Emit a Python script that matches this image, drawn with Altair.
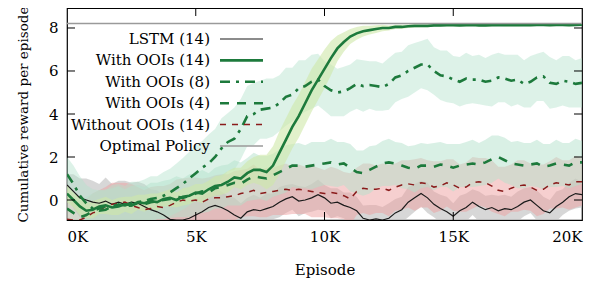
import altair as alt
import pandas as pd

# ---------------- data (episodes every 250) ----------------
episodes = [250 * i for i in range(81)]

lstm = [
    0.7, 0.4, 0.1, 0.0,
    -0.1, -0.15, -0.05, -0.2,
    -0.1, -0.2, -0.1, -0.15,
    -0.3, -0.45, -0.55, -0.7,
    -0.9, -0.93, -0.93, -0.85,
    -0.7, -0.55, -0.35, -0.25,
    -0.35, -0.5, -0.7, -0.85,
    -0.55, -0.45, -0.5, -0.4,
    -0.3, -0.1, 0.05, 0.15,
    -0.05, 0.0, 0.1, 0.25,
    0.1, -0.15, -0.1, -0.25,
    -0.35, -0.5, -0.85, -0.93,
    -0.88, -0.93, -0.85, -0.6,
    -0.45, -0.1, 0.1, 0.3,
    0.1, -0.2, -0.4, -0.55,
    -0.75, -0.5, -0.35, -0.1,
    -0.3, -0.45, -0.35, -0.5,
    -0.4, -0.45, -0.3, -0.1,
    0.0, -0.25, -0.5, -0.6,
    -0.3, -0.1, 0.15, 0.3,
    0.25,
]
lstm_sp = [
    0.5, 0.8, 0.9, 1.0,
    1.0, 0.9, 1.1, 0.95,
    1.0, 1.1, 0.9, 1.0,
    1.05, 0.95, 1.0, 0.9,
    1.0, 0.95, 0.9, 0.85,
    0.8, 0.75, 0.7, 0.8,
    0.75, 0.7, 0.8, 0.7,
    0.65, 0.7, 0.6, 0.7,
    0.6, 0.7, 0.65, 0.6,
    0.7, 0.6, 0.65, 0.7,
    0.6, 0.7, 0.65, 0.6,
    0.7, 0.65, 0.6, 0.7,
    0.65, 0.6, 0.7, 0.65,
    0.6, 0.7, 0.65, 0.6,
    0.7, 0.6, 0.65, 0.7,
    0.6, 0.7, 0.65, 0.6,
    0.7, 0.65, 0.6, 0.7,
    0.65, 0.6, 0.7, 0.65,
    0.6, 0.7, 0.65, 0.6,
    0.7, 0.6, 0.65, 0.7,
    0.6,
]

no_ooi = [
    -0.9, -0.93, -0.93, -0.8,
    -0.6, -0.5, -0.3, -0.2,
    -0.15, -0.1, -0.25, -0.35,
    -0.45, -0.4, -0.3, -0.35,
    -0.25, -0.1, 0.0, -0.05,
    0.0, -0.1, 0.05, 0.1,
    0.1, 0.15, 0.2, 0.3,
    0.35, 0.45, 0.3, 0.35,
    0.4, 0.45, 0.5, 0.45,
    0.5, 0.45, 0.4, 0.35,
    0.3, 0.35, 0.3, 0.2,
    0.05, 0.4, 0.55, 0.5,
    0.5, 0.55, 0.45, 0.6,
    0.7, 0.75, 0.7, 0.8,
    0.75, 0.6, 0.65, 0.8,
    0.7, 0.55, 0.6, 0.8,
    0.85, 0.8, 0.65, 0.45,
    0.4, 0.55, 0.65, 0.7,
    0.6, 0.45, 0.5, 0.7,
    0.8, 0.75, 0.7, 0.85,
    0.85,
]
no_ooi_sp = [
    0.8, 0.85, 0.9, 0.85,
    0.9, 0.95, 0.9, 1.0,
    0.95, 0.9, 1.0, 0.95,
    0.9, 1.0, 0.95, 1.0,
    1.0, 1.05, 1.0, 1.1,
    1.05, 1.1, 1.0, 1.05,
    1.1, 1.05, 1.15, 1.1,
    1.1, 1.2, 1.1, 1.15,
    1.1, 1.15, 1.2, 1.1,
    1.15, 1.1, 1.2, 1.15,
    1.1, 1.2, 1.15, 1.1,
    1.2, 1.1, 1.15, 1.2,
    1.1, 1.15, 1.2, 1.1,
    1.15, 1.1, 1.2, 1.15,
    1.1, 1.2, 1.15, 1.1,
    1.2, 1.1, 1.15, 1.2,
    1.1, 1.15, 1.2, 1.1,
    1.15, 1.1, 1.2, 1.15,
    1.1, 1.2, 1.15, 1.1,
    1.2, 1.1, 1.15, 1.2,
    1.1,
]

ooi4 = [
    -0.4, -0.6, -0.8, -0.7,
    -0.5, -0.4, -0.3, -0.35,
    -0.2, -0.3, -0.25, -0.15,
    -0.2, -0.1, -0.05, 0.0,
    0.05, 0.15, 0.1, 0.2,
    0.3, 0.4, 0.35, 0.55,
    0.6, 0.7, 0.8, 0.75,
    0.95, 1.1, 1.05, 1.0,
    1.15, 1.3, 1.45, 1.6,
    1.6, 1.55, 1.6, 1.65,
    1.7, 1.75, 1.65, 1.7,
    1.5, 1.3, 1.25, 1.4,
    1.55, 1.7, 1.75, 1.7,
    1.6, 1.5, 1.45, 1.6,
    1.6, 1.55, 1.65, 1.6,
    1.5, 1.6, 1.65, 1.7,
    1.65, 1.75, 1.9, 2.0,
    1.85, 1.7, 1.65, 1.6,
    1.65, 1.7, 1.55, 1.6,
    1.7, 1.65, 1.6, 1.75,
    1.75,
]
ooi4_sp = [
    0.8, 0.75, 0.8, 0.85,
    0.8, 0.85, 0.8, 0.9,
    0.85, 0.8, 0.9, 0.85,
    0.8, 0.9, 0.85, 0.9,
    0.9, 0.95, 0.9, 1.0,
    0.95, 1.0, 0.9, 0.95,
    1.0, 0.95, 1.05, 1.0,
    1.0, 1.1, 1.0, 1.05,
    1.0, 1.05, 1.1, 1.0,
    1.05, 1.0, 1.1, 1.05,
    1.0, 1.1, 1.05, 1.0,
    1.1, 1.0, 1.05, 1.1,
    1.0, 1.05, 1.1, 1.0,
    1.05, 1.0, 1.1, 1.05,
    1.0, 1.1, 1.05, 1.0,
    1.1, 1.0, 1.05, 1.1,
    1.0, 1.05, 1.1, 1.0,
    1.05, 1.0, 1.1, 1.05,
    1.0, 1.1, 1.05, 1.0,
    1.1, 1.0, 1.05, 1.1,
    1.0,
]

ooi8 = [
    1.2, 0.75, 0.2, -0.15,
    -0.4, -0.5, -0.45, -0.3,
    -0.2, -0.25, -0.15, -0.1,
    -0.05, 0.05, 0.1, 0.2,
    0.35, 0.55, 0.75, 1.0,
    1.25, 1.5, 1.7, 2.0,
    2.4, 2.7, 2.85, 3.3,
    3.9, 4.0, 4.2, 4.25,
    4.3, 4.5, 4.8, 4.9,
    5.2, 5.3, 5.5, 5.6,
    5.3, 5.1, 5.0, 5.05,
    5.2, 5.4, 5.3, 5.35,
    5.3, 5.25, 5.4, 5.7,
    5.8, 6.0, 6.15, 6.3,
    6.3, 6.0, 5.8, 5.75,
    5.6, 5.5, 5.65, 5.6,
    5.6, 5.5, 5.55, 5.7,
    5.65, 5.55, 5.6, 5.4,
    5.5, 5.7, 5.75, 5.45,
    5.4, 5.55, 5.5, 5.4,
    5.45,
]
ooi8_sp = [
    0.8, 0.85, 0.9, 0.85,
    0.9, 0.95, 0.9, 1.0,
    0.95, 0.9, 1.0, 0.95,
    1.0, 1.05, 1.0, 1.1,
    1.1, 1.15, 1.2, 1.25,
    1.3, 1.25, 1.35, 1.3,
    1.4, 1.35, 1.45, 1.4,
    1.4, 1.45, 1.35, 1.4,
    1.35, 1.3, 1.35, 1.25,
    1.3, 1.2, 1.25, 1.2,
    1.15, 1.2, 1.1, 1.15,
    1.1, 1.15, 1.2, 1.1,
    1.15, 1.1, 1.2, 1.15,
    1.1, 1.2, 1.15, 1.1,
    1.2, 1.1, 1.15, 1.2,
    1.1, 1.15, 1.2, 1.1,
    1.15, 1.1, 1.2, 1.15,
    1.1, 1.2, 1.15, 1.1,
    1.2, 1.1, 1.15, 1.2,
    1.1, 1.15, 1.2, 1.1,
    1.15,
]

ooi14 = [
    0.3, 0.0, -0.3, -0.5,
    -0.45, -0.3, -0.25, -0.35,
    -0.3, -0.2, -0.25, -0.1,
    -0.15, -0.05, -0.1, 0.05,
    0.1, 0.0, 0.15, 0.2,
    0.35, 0.3, 0.5, 0.65,
    0.7, 0.85, 1.05, 1.0,
    1.25, 1.4, 1.4, 1.3,
    1.6, 2.2, 2.8, 3.4,
    3.9, 4.5, 5.1, 5.6,
    6.1, 6.6, 7.05, 7.35,
    7.6, 7.75, 7.85, 7.9,
    7.95, 8.0, 8.0, 8.05,
    8.05, 8.08, 8.1, 8.1,
    8.1, 8.12, 8.12, 8.13,
    8.13, 8.12, 8.13, 8.14,
    8.12, 8.12, 8.13, 8.14,
    8.13, 8.13, 8.13, 8.14,
    8.13, 8.14, 8.14, 8.13,
    8.14, 8.14, 8.13, 8.14,
    8.15,
]
ooi14_sp = [
    0.4, 0.35, 0.4, 0.35,
    0.4, 0.35, 0.4, 0.35,
    0.4, 0.35, 0.4, 0.35,
    0.4, 0.35, 0.4, 0.35,
    0.4, 0.35, 0.4, 0.4,
    0.4, 0.45, 0.4, 0.45,
    0.45, 0.5, 0.45, 0.5,
    0.55, 0.6, 0.7, 0.8,
    0.9, 1.0, 1.0, 1.0,
    1.0, 1.0, 1.0, 0.95,
    0.9, 0.8, 0.6, 0.45,
    0.35, 0.3, 0.25, 0.2,
    0.18, 0.15, 0.12, 0.1,
    0.1, 0.08, 0.08, 0.06,
    0.06, 0.05, 0.05, 0.05,
    0.05, 0.05, 0.05, 0.05,
    0.05, 0.05, 0.05, 0.05,
    0.05, 0.05, 0.05, 0.05,
    0.05, 0.05, 0.05, 0.05,
    0.05, 0.05, 0.05, 0.05,
    0.05,
]

optimal_value = 8.21
x_ticks = [0, 5000, 10000, 15000, 20000]
y_ticks = [0, 2, 4, 6, 8]

legend_labels = ["LSTM (14)", "With OOIs (14)", "With OOIs (8)",
                 "With OOIs (4)", "Without OOIs (14)", "Optimal Policy"]

# ---------------- styling ----------------
FONT = "DejaVu Serif"
FS = 15
GREEN = "#1d7a3c"
RED = "#8a1b1b"
BLACK = "#1a1a1a"
GRAY = "#9a9a9a"
W, H = 515, 212
Y_DOM = [-0.93, 8.93]

xs = alt.Scale(domain=[0, 20000], nice=False, zero=False)
ys = alt.Scale(domain=Y_DOM, nice=False, zero=False)


def frame(vals, sp):
    return pd.DataFrame({
        "x": episodes, "y": vals,
        "lo": [v - s for v, s in zip(vals, sp)],
        "hi": [v + s for v, s in zip(vals, sp)],
    })


series = [
    # data, spread, band color, band opacity, line color, width, dash
    (lstm, lstm_sp, "#bdbdbd", 0.6, BLACK, 1.2, None),
    (no_ooi, no_ooi_sp, "#eda0a0", 0.5, RED, 1.5, [6, 6]),
    (ooi4, ooi4_sp, "#b4e2cb", 0.5, GREEN, 2.6, [9, 8]),
    (ooi8, ooi8_sp, "#b4e2cb", 0.45, GREEN, 2.6, [10, 6, 3, 6]),
    (ooi14, ooi14_sp, "#cfe8a8", 0.6, GREEN, 2.6, None),
]

x_enc = alt.X("x:Q", scale=xs, title="Episode",
              axis=alt.Axis(values=x_ticks,
                            labelExpr="format(datum.value/1000, 'd') + 'K'"))
y_enc = alt.Y("y:Q", scale=ys, title="Cumulative reward per episode",
              axis=alt.Axis(values=y_ticks, titleFontSize=13.5))

bands = []
lines = []
for vals, sp, bcol, bop, lcol, lw, dash in series:
    df = frame(vals, sp)
    bands.append(
        alt.Chart(df).mark_area(color=bcol, opacity=bop, clip=True).encode(
            x=x_enc, y=alt.Y("lo:Q", scale=ys), y2="hi:Q"))
    kw = dict(color=lcol, strokeWidth=lw, clip=True)
    if dash:
        kw["strokeDash"] = dash
    lines.append(alt.Chart(df).mark_line(**kw).encode(x=x_enc, y=y_enc))

opt_df = pd.DataFrame({"y": [optimal_value]})
optimal = alt.Chart(opt_df).mark_rule(color=GRAY, strokeWidth=1.5).encode(
    y=alt.Y("y:Q", scale=ys), x=alt.value(0), x2=alt.value(W))

# inward ticks on all four sides
ytdf = pd.DataFrame({"y": y_ticks})
xtdf = pd.DataFrame({"x": x_ticks[1:-1]})
tk = dict(color="black", strokeWidth=1)
ticks = [
    alt.Chart(ytdf).mark_rule(**tk).encode(y=alt.Y("y:Q", scale=ys), x=alt.value(0), x2=alt.value(8)),
    alt.Chart(ytdf).mark_rule(**tk).encode(y=alt.Y("y:Q", scale=ys), x=alt.value(W - 8), x2=alt.value(W)),
    alt.Chart(xtdf).mark_rule(**tk).encode(x=alt.X("x:Q", scale=xs), y=alt.value(H - 8), y2=alt.value(H)),
    alt.Chart(xtdf).mark_rule(**tk).encode(x=alt.X("x:Q", scale=xs), y=alt.value(0), y2=alt.value(8)),
]

# custom legend (label right-aligned, sample line on the right)
leg_styles = [
    (BLACK, 1.2, None),
    (GREEN, 2.6, None),
    (GREEN, 2.6, [10, 6, 3, 6]),
    (GREEN, 2.6, [9, 8]),
    (RED, 1.5, [6, 6]),
    (GRAY, 1.5, None),
]
LEG_Y0, LEG_DY = 31, 21.4
legend_layers = []
for i, (lab, (col, lw, dash)) in enumerate(zip(legend_labels, leg_styles)):
    yy = LEG_Y0 + LEG_DY * i
    ldf = pd.DataFrame({"label": [lab]})
    legend_layers.append(
        alt.Chart(ldf).mark_text(align="right", baseline="middle", font=FONT,
                                 fontSize=FS, color="black").encode(
            text="label:N", x=alt.value(143), y=alt.value(yy)))
    kw = dict(color=col, strokeWidth=lw)
    if dash:
        kw["strokeDash"] = dash
    legend_layers.append(
        alt.Chart(ldf).mark_rule(**kw).encode(
            x=alt.value(153), x2=alt.value(196), y=alt.value(yy)))

chart = alt.layer(*bands, *lines, optimal, *ticks, *legend_layers).properties(
    width=W, height=H,
    autosize=alt.AutoSizeParams(type="none"),
    padding={"left": 59, "top": 0, "right": 18, "bottom": 61},
).configure_view(stroke="black", strokeWidth=1.2).configure_axis(
    grid=False, domain=False, ticks=False,
    labelFont=FONT, titleFont=FONT, labelFontSize=FS, titleFontSize=FS,
    labelColor="black", titleColor="black", titleFontWeight="normal",
).configure_axisX(labelPadding=9, titlePadding=18).configure_axisY(
    labelPadding=9, titlePadding=18)

chart.save("out.html", embed_options={"renderer": "svg", "actions": False})
